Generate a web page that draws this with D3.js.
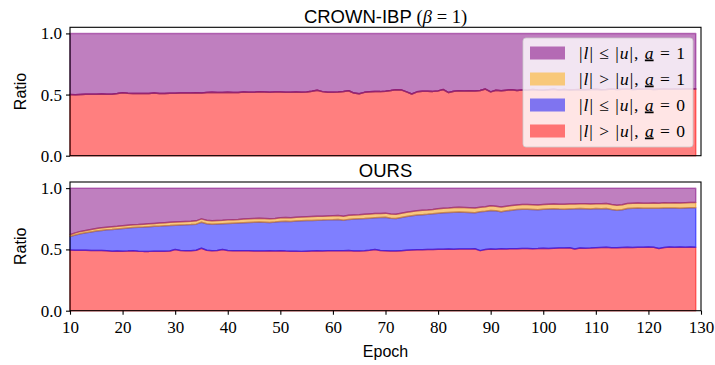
<!DOCTYPE html>
<html>
<head>
<meta charset="utf-8">
<script src="https://cdn.jsdelivr.net/npm/d3@7"></script>
<style>
body { margin: 0; background: #fff; }
.tick text { font-family: "Liberation Serif", serif; font-size: 17px; fill: #000; }
.tick line { stroke: #000; stroke-width: 1.1; }
</style>
</head>
<body>
<div id="chart"></div>
<script>
// epochs on the x axis
var epochs = d3.range(10, 130);

// CROWN-IBP: only two bands, the a=1 / a=0 bands with |l|>|u| resp. |l|<=|u| are empty
var crownRedTop = [
    0.500, 0.498, 0.500, 0.502, 0.503, 0.503, 0.504, 0.502, 0.503, 0.508,
    0.514, 0.510, 0.508, 0.509, 0.509, 0.508, 0.512, 0.509, 0.508, 0.510,
    0.510, 0.512, 0.513, 0.512, 0.515, 0.513, 0.517, 0.518, 0.516, 0.517,
    0.518, 0.516, 0.517, 0.520, 0.519, 0.518, 0.522, 0.521, 0.519, 0.521,
    0.520, 0.518, 0.519, 0.521, 0.518, 0.520, 0.527, 0.535, 0.524, 0.519,
    0.519, 0.521, 0.525, 0.531, 0.512, 0.506, 0.518, 0.522, 0.525, 0.524,
    0.528, 0.533, 0.540, 0.538, 0.522, 0.505, 0.522, 0.527, 0.528, 0.526,
    0.530, 0.541, 0.516, 0.527, 0.531, 0.529, 0.532, 0.530, 0.534, 0.545,
    0.522, 0.535, 0.531, 0.536, 0.540, 0.533, 0.538, 0.535, 0.541, 0.537,
    0.536, 0.540, 0.543, 0.538, 0.541, 0.537, 0.540, 0.542, 0.539, 0.541,
    0.543, 0.540, 0.542, 0.545, 0.541, 0.543, 0.545, 0.542, 0.544, 0.543,
    0.545, 0.542, 0.544, 0.546, 0.543, 0.545, 0.544, 0.546, 0.545, 0.545
];

// OURS: cumulative band tops (red, +blue, +orange), purple fills up to 1
var oursRedTop = [
    0.495, 0.494, 0.494, 0.493, 0.492, 0.492, 0.491, 0.489, 0.486, 0.487,
    0.486, 0.487, 0.489, 0.486, 0.484, 0.484, 0.485, 0.486, 0.486, 0.487,
    0.500, 0.492, 0.489, 0.489, 0.493, 0.510, 0.493, 0.490, 0.491, 0.499,
    0.492, 0.490, 0.490, 0.489, 0.489, 0.488, 0.487, 0.488, 0.489, 0.488,
    0.490, 0.487, 0.485, 0.485, 0.484, 0.486, 0.488, 0.489, 0.488, 0.489,
    0.490, 0.489, 0.490, 0.491, 0.488, 0.487, 0.490, 0.494, 0.500, 0.492,
    0.490, 0.488, 0.487, 0.490, 0.493, 0.496, 0.497, 0.498, 0.500, 0.499,
    0.501, 0.502, 0.503, 0.502, 0.503, 0.504, 0.503, 0.505, 0.490, 0.500,
    0.503, 0.502, 0.505, 0.504, 0.506, 0.505, 0.507, 0.508, 0.506, 0.507,
    0.509, 0.508, 0.510, 0.512, 0.511, 0.513, 0.504, 0.512, 0.510, 0.511,
    0.513, 0.515, 0.517, 0.514, 0.513, 0.515, 0.517, 0.516, 0.517, 0.518,
    0.519, 0.517, 0.508, 0.516, 0.520, 0.517, 0.519, 0.518, 0.519, 0.518
];
var oursBlueTop = [
    0.605, 0.618, 0.628, 0.636, 0.643, 0.650, 0.655, 0.660, 0.663, 0.667,
    0.671, 0.675, 0.678, 0.680, 0.682, 0.685, 0.688, 0.690, 0.693, 0.695,
    0.698, 0.700, 0.701, 0.703, 0.706, 0.722, 0.710, 0.706, 0.708, 0.710,
    0.712, 0.714, 0.716, 0.718, 0.720, 0.722, 0.724, 0.722, 0.720, 0.723,
    0.728, 0.730, 0.728, 0.731, 0.733, 0.735, 0.736, 0.738, 0.739, 0.741,
    0.742, 0.744, 0.738, 0.745, 0.748, 0.750, 0.752, 0.755, 0.758, 0.760,
    0.762, 0.755, 0.752, 0.760, 0.768, 0.775, 0.780, 0.783, 0.786, 0.790,
    0.795, 0.800, 0.802, 0.804, 0.806, 0.804, 0.802, 0.800, 0.807, 0.812,
    0.818, 0.815, 0.808, 0.815, 0.820, 0.825, 0.827, 0.828, 0.826, 0.824,
    0.828, 0.830, 0.831, 0.829, 0.828, 0.830, 0.831, 0.833, 0.832, 0.830,
    0.833, 0.832, 0.834, 0.826, 0.820, 0.823, 0.834, 0.836, 0.837, 0.836,
    0.835, 0.836, 0.835, 0.838, 0.837, 0.838, 0.836, 0.838, 0.839, 0.840
];
var oursOrangeTop = [
    0.620, 0.635, 0.647, 0.655, 0.663, 0.670, 0.676, 0.681, 0.685, 0.689,
    0.694, 0.698, 0.701, 0.703, 0.706, 0.709, 0.712, 0.715, 0.718, 0.721,
    0.724, 0.726, 0.728, 0.730, 0.733, 0.749, 0.738, 0.734, 0.736, 0.738,
    0.741, 0.743, 0.745, 0.748, 0.750, 0.752, 0.754, 0.752, 0.750, 0.753,
    0.759, 0.761, 0.759, 0.762, 0.764, 0.766, 0.768, 0.770, 0.771, 0.773,
    0.775, 0.777, 0.770, 0.778, 0.781, 0.783, 0.786, 0.789, 0.792, 0.794,
    0.796, 0.789, 0.786, 0.795, 0.803, 0.810, 0.815, 0.819, 0.822, 0.826,
    0.831, 0.836, 0.838, 0.841, 0.843, 0.841, 0.839, 0.837, 0.844, 0.849,
    0.856, 0.853, 0.846, 0.853, 0.858, 0.863, 0.866, 0.867, 0.865, 0.863,
    0.867, 0.869, 0.871, 0.869, 0.868, 0.870, 0.871, 0.873, 0.872, 0.870,
    0.873, 0.872, 0.875, 0.867, 0.861, 0.864, 0.875, 0.877, 0.878, 0.877,
    0.877, 0.878, 0.877, 0.880, 0.879, 0.880, 0.878, 0.881, 0.882, 0.883
];

var yTicks = [0.0, 0.5, 1.0];
var xTicks = [10, 20, 30, 40, 50, 60, 70, 80, 90, 100, 110, 120, 130];

// stack order: bottom to top
var bandColors = ["#ff0000", "#0000ff", "#f29200", "#800080"];

// legend, top to bottom
var legendRel = ["\u2264", ">", "\u2264", ">"];
var legendA = ["1", "1", "0", "0"];
var legendSwatch = ["#b46ab4", "#f8c87a", "#7f74f0", "#ff7373"];

var width = 715;
var height = 365;
var sans = '"Liberation Sans", "DejaVu Sans", sans-serif';
var serif = '"Liberation Serif", "DejaVu Serif", serif';

var svg = d3.select("#chart")
    .append("svg")
    .attr("width", width)
    .attr("height", height)
    .style("background", "#fff");

var x_scale = d3.scaleLinear()
    .domain([10, 130])
    .range([70, 701]);

function panel(top, bottom, bounds, showX) {
    var y_scale = d3.scaleLinear()
        .domain([0, 1.05])
        .range([bottom, top]);

    var g = svg.append("g");

    // bands: lower edge of band k is bounds[k-1], upper edge is bounds[k]
    bandColors.forEach(function(c, k) {
        var rows = epochs.map(function(e, i) {
            return {
                epoch: e,
                lo: k === 0 ? 0 : bounds[k - 1][i],
                hi: k === 3 ? 1 : bounds[k][i]
            };
        });
        var area = d3.area()
            .x(function(d) { return x_scale(d.epoch); })
            .y0(function(d) { return y_scale(d.lo); })
            .y1(function(d) { return y_scale(d.hi); });
        g.append("path")
            .datum(rows)
            .attr("d", area)
            .attr("fill", c)
            .attr("fill-opacity", 0.5)
            .attr("stroke", c)
            .attr("stroke-opacity", 0.5)
            .attr("stroke-width", 1.5)
            .attr("stroke-linejoin", "round");
    });

    var ya = g.append("g")
        .attr("transform", "translate(70,0)")
        .call(d3.axisLeft(y_scale)
            .tickValues(yTicks)
            .tickFormat(d3.format(".1f"))
            .tickSize(4)
            .tickPadding(4));
    ya.select(".domain").remove();

    if (showX) {
        var xa = g.append("g")
            .attr("transform", "translate(0," + bottom + ")")
            .call(d3.axisBottom(x_scale)
                .tickValues(xTicks)
                .tickSize(4)
                .tickPadding(6));
        xa.select(".domain").remove();
    }

    g.append("rect")
        .attr("x", 70)
        .attr("y", top)
        .attr("width", 631)
        .attr("height", bottom - top)
        .attr("fill", "none")
        .attr("stroke", "#000")
        .attr("stroke-width", 1.1);

    g.append("text")
        .attr("transform", "translate(26," + (top + bottom) / 2 + ")rotate(-90)")
        .attr("text-anchor", "middle")
        .style("font-family", sans)
        .style("font-size", "16px")
        .text("Ratio");

    return g;
}

var crown = panel(27.3, 155.7, [crownRedTop, crownRedTop, crownRedTop], false);
var ours = panel(182, 310.7, [oursRedTop, oursBlueTop, oursOrangeTop], true);

// titles
var t1 = svg.append("text")
    .attr("x", 385.5)
    .attr("y", 22.5)
    .attr("text-anchor", "middle")
    .style("font-size", "18.5px");
t1.append("tspan").style("font-family", sans).text("CROWN-IBP ");
t1.append("tspan").style("font-family", serif).text("(");
t1.append("tspan").style("font-family", serif).style("font-style", "italic").text("\u03b2");
t1.append("tspan").style("font-family", serif).text(" = 1)");

svg.append("text")
    .attr("x", 385.5)
    .attr("y", 177)
    .attr("text-anchor", "middle")
    .style("font-family", sans)
    .style("font-size", "18.5px")
    .text("OURS");

svg.append("text")
    .attr("x", 385.5)
    .attr("y", 357)
    .attr("text-anchor", "middle")
    .style("font-family", sans)
    .style("font-size", "16px")
    .text("Epoch");

// legend
var legend = crown.append("g");
legend.append("rect")
    .attr("x", 523)
    .attr("y", 38)
    .attr("width", 170)
    .attr("height", 109)
    .attr("rx", 3)
    .attr("fill", "#fff")
    .attr("fill-opacity", 0.8)
    .attr("stroke", "#cccccc")
    .attr("stroke-opacity", 0.8);

legendRel.forEach(function(rel, i) {
    var cy = 53 + i * 26;
    legend.append("rect")
        .attr("x", 530)
        .attr("y", cy - 6.5)
        .attr("width", 35)
        .attr("height", 13)
        .attr("fill", legendSwatch[i]);
    var txt = legend.append("text")
        .attr("x", 579)
        .attr("y", cy + 5.5)
        .attr("textLength", 106)
        .attr("lengthAdjust", "spacing")
        .style("font-family", serif)
        .style("font-size", "17.5px");
    txt.append("tspan").text("|");
    txt.append("tspan").style("font-style", "italic").text("l");
    txt.append("tspan").text("| " + rel + " |");
    txt.append("tspan").style("font-style", "italic").text("u");
    txt.append("tspan").text("|, ");
    txt.append("tspan").style("font-style", "italic").style("text-decoration", "underline").text("a");
    txt.append("tspan").text(" = " + legendA[i]);
});
</script>
</body>
</html>
